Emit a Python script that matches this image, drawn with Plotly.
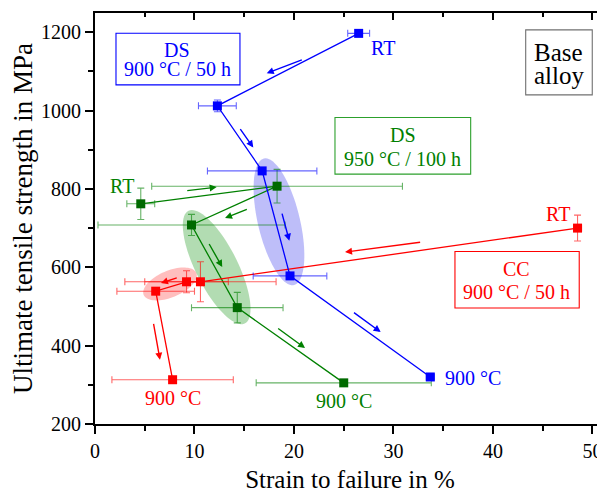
import numpy as np
import plotly.graph_objects as go

FONT = "Liberation Serif"

# ---------------- data ----------------
ds900_strain = [26.5, 12.3, 16.8, 19.6, 33.7]
ds900_uts = [1197, 1012, 846, 578, 320]
ds900_strain_err = [1.1, 1.9, 5.5, 3.7, 0.4]
ds900_uts_err = [6, 15, 8, 8, 6]

ds950_strain = [4.6, 18.3, 9.7, 14.3, 25.0]
ds950_uts = [762, 807, 708, 497, 305]
ds950_strain_err = [1.4, 12.6, 9.4, 4.6, 8.8]
ds950_uts_err = [40, 43, 27, 39, 5]

cc900_strain = [48.5, 10.6, 9.2, 6.1, 7.8]
cc900_uts = [700, 563, 563, 539, 313]
cc900_strain_err = [0.4, 7.6, 4.2, 3.9, 6.1]
cc900_uts_err = [33, 51, 28, 6, 6]

X_RANGE = [0, 51.26]
Y_RANGE = [200, 1249]
X_TICKS = [0, 10, 20, 30, 40, 50]
Y_TICKS = [200, 400, 600, 800, 1000, 1200]

BLUE = "#0000ff"
GREEN = "#008000"
GREEN_M = "#006a00"
RED = "#ff0000"

# the page body has an 8 px margin, so the figure is 8 px smaller than the window
W, H = 597, 489
ML, MR, MT, MB = 87, 0, 5, 73
SX = (W - ML - MR) / (X_RANGE[1] - X_RANGE[0])   # px per % strain
SY = (H - MT - MB) / (Y_RANGE[1] - Y_RANGE[0])   # px per MPa

fig = go.Figure()


def series(xs, ys, xe, ye, color, mcolor, ecolor):
    fig.add_trace(go.Scatter(
        x=xs, y=ys, mode="lines+markers",
        line=dict(color=color, width=1.3),
        marker=dict(symbol="square", size=9, color=mcolor),
        error_x=dict(type="data", array=xe, color=ecolor, thickness=1.1, width=3.5),
        error_y=dict(type="data", array=ye, color=ecolor, thickness=1.1, width=3.5),
        showlegend=False, hoverinfo="x+y"))


series(ds950_strain, ds950_uts, ds950_strain_err, ds950_uts_err, GREEN, GREEN_M, "rgba(0,128,0,0.6)")
series(cc900_strain, cc900_uts, cc900_strain_err, cc900_uts_err, RED, RED, "rgba(255,0,0,0.6)")
series(ds900_strain, ds900_uts, ds900_strain_err, ds900_uts_err, BLUE, BLUE, "rgba(0,0,255,0.6)")

# dummy trace for the top axis
fig.add_trace(go.Scatter(x=[None], y=[None], xaxis="x2", yaxis="y", showlegend=False, hoverinfo="skip"))


# ---------------- shaded ellipses ----------------
def ellipse_path(cx, cy, a_px, b_px, ang_deg, n=80):
    t = np.linspace(0, 2 * np.pi, n)
    ang = np.radians(ang_deg)
    dx = a_px * np.cos(t) * np.cos(ang) - b_px * np.sin(t) * np.sin(ang)
    dy = a_px * np.cos(t) * np.sin(ang) + b_px * np.sin(t) * np.cos(ang)
    xs = cx + dx / SX
    ys = cy + dy / SY
    return "M " + " L ".join(f"{x:.4f},{y:.3f}" for x, y in zip(xs, ys)) + " Z"


ellipses = [
    (18.49, 716.1, 65, 21, 103.4, "rgba(40,40,235,0.30)"),
    (12.23, 600.5, 63, 21, 116.6, "rgba(0,140,0,0.30)"),
    (7.54, 557.4, 28.5, 13.3, 22.6, "rgba(255,40,40,0.30)"),
]
for cx, cy, a, b, ang, col in ellipses:
    fig.add_shape(type="path", path=ellipse_path(cx, cy, a, b, ang), xref="x", yref="y",
                  fillcolor=col, line=dict(width=0), layer="below")

# ---------------- arrows ----------------
arrows = [
    # (x_start, y_start, x_end, y_end, color)
    (20.94, 1131, 17.26, 1095.4, BLUE),
    (14.50, 956.6, 15.91, 905.6, BLUE),
    (18.76, 740.8, 19.53, 667.6, BLUE),
    (25.88, 487.2, 28.71, 434.7, BLUE),
    (9.12, 795.2, 12.23, 804.6, GREEN),
    (15.41, 749.2, 13.07, 725.5, GREEN),
    (11.39, 663.3, 12.79, 600.5, GREEN),
    (18.26, 446.4, 21.11, 393.9, GREEN),
    (32.83, 664.3, 25.13, 638.8, RED),
    (8.37, 574.0, 6.63, 559.7, RED),
    (5.86, 459.2, 6.53, 364.0, RED),
]
for x0, y0, x1, y1, col in arrows:
    fig.add_annotation(x=x1, y=y1, ax=x0, ay=y0, xref="x", yref="y", axref="x", ayref="y",
                       text="", showarrow=True, arrowhead=2, arrowsize=1.0, arrowwidth=1.4,
                       arrowcolor=col, standoff=0, startstandoff=0)

# ---------------- point labels ----------------
labels = [
    (28.9, 1160, "RT", BLUE),
    (37.96, 318, "900 °C", BLUE),
    (2.68, 806.6, "RT", GREEN),
    (25.06, 257.7, "900 °C", GREEN),
    (46.5, 735, "RT", RED),
    (7.87, 266, "900 °C", RED),
]
for x, y, t, col in labels:
    fig.add_annotation(x=x, y=y, xref="x", yref="y", text=t, showarrow=False,
                       font=dict(family=FONT, size=20, color=col))

# ---------------- boxes ----------------
boxes = [
    (2.11, 1065.6, 14.57, 1197.5, BLUE, 8.29, [("DS", 1155), ("900 °C / 50 h", 1106.4)], BLUE, 20),
    (24.12, 837.8, 37.76, 982.1, "#2ca02c", 30.95, [("DS", 938), ("950 °C / 100 h", 876.8)], GREEN, 20),
    (36.18, 495.9, 48.67, 640.3, RED, 42.41, [("CC", 596), ("900 °C / 50 h", 536.2)], RED, 20),
    (43.29, 1040.1, 49.98, 1205.9, "#707070", 46.63, [("Base", 1148), ("alloy", 1089)], "black", 25),
]
for x0, y0, x1, y1, bcol, tx, lines, tcol, fs in boxes:
    fig.add_shape(type="rect", x0=x0, x1=x1, y0=y0, y1=y1, xref="x", yref="y",
                  line=dict(color=bcol, width=1.1), fillcolor="rgba(0,0,0,0)")
    for t, ty in lines:
        fig.add_annotation(x=tx, y=ty, xref="x", yref="y", text=t, showarrow=False,
                           font=dict(family=FONT, size=fs, color=tcol))

# ---------------- layout ----------------
tickfont = dict(family=FONT, size=20, color="black")
fig.update_layout(
    width=W, height=H,
    margin=dict(l=ML, r=MR, t=MT, b=MB, autoexpand=False),
    plot_bgcolor="white", paper_bgcolor="white",
    showlegend=False,
    font=dict(family=FONT, color="black"),
    xaxis=dict(range=X_RANGE, tickvals=X_TICKS, ticks="outside", ticklen=8, tickwidth=1.5,
               tickcolor="black", showline=True, linecolor="black", linewidth=1.8,
               showgrid=False, zeroline=False, tickfont=tickfont, automargin=False,
               minor=dict(dtick=5, tick0=0, ticks="outside", ticklen=5, tickwidth=1.5, tickcolor="black", showgrid=False),
               title=dict(text="Strain to failure in %", font=dict(family=FONT, size=25, color="black"), standoff=10)),
    xaxis2=dict(range=X_RANGE, overlaying="x", side="top", anchor="y", tickvals=X_TICKS,
                ticks="inside", ticklen=7, tickwidth=1.5, tickcolor="black", showticklabels=False,
                showline=True, linecolor="black", linewidth=1.8, showgrid=False, zeroline=False,
                automargin=False,
                minor=dict(dtick=5, tick0=0, ticks="inside", ticklen=4, tickwidth=1.5, tickcolor="black", showgrid=False)),
    yaxis=dict(range=Y_RANGE, tickvals=Y_TICKS, ticks="outside", ticklen=8, tickwidth=1.5,
               tickcolor="black", showline=True, linecolor="black", linewidth=1.8,
               showgrid=False, zeroline=False, tickfont=tickfont, automargin=False,
               minor=dict(dtick=100, tick0=0, ticks="outside", ticklen=5, tickwidth=1.5, tickcolor="black", showgrid=False),
               title=dict(text="Ultimate tensile strength in MPa", font=dict(family=FONT, size=27, color="black"), standoff=6)),
)

fig.write_html("out.html")
